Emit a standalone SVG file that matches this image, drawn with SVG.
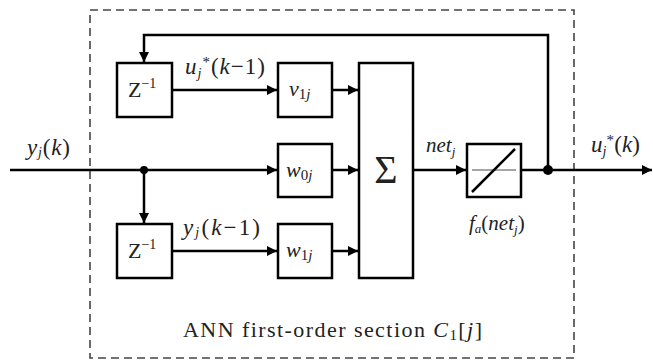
<svg xmlns="http://www.w3.org/2000/svg" width="653" height="362" viewBox="0 0 653 362">
<defs>
<marker id="ah" viewBox="0 0 10 10" refX="10" refY="5" markerWidth="10" markerHeight="10" markerUnits="userSpaceOnUse" orient="auto">
<path d="M0,0 L10,5 L0,10 z" fill="#000"/>
</marker>
</defs>
<style>
.box{fill:#fff;stroke:#000;stroke-width:2.5}
.ln{fill:none;stroke:#000;stroke-width:2.5}
text{font-family:'Liberation Serif','DejaVu Serif','Times New Roman',serif;fill:#222}
.i{font-style:italic}
</style>
<rect x="0" y="0" width="653" height="362" fill="#fff"/>
<rect x="90" y="10" width="484" height="348" fill="none" stroke="#444" stroke-width="1.6" stroke-dasharray="8,5"/>
<g id="connectors">
<path class="ln" d="M548,170 V35 H144 V62" marker-end="url(#ah)"/>
<path class="ln" d="M172,90 H277" marker-end="url(#ah)"/>
<path class="ln" d="M332,90 H358" marker-end="url(#ah)"/>
<path class="ln" d="M10,170 H277" marker-end="url(#ah)"/>
<path class="ln" d="M332,170 H358" marker-end="url(#ah)"/>
<path class="ln" d="M144,170 V223" marker-end="url(#ah)"/>
<path class="ln" d="M172,251 H277" marker-end="url(#ah)"/>
<path class="ln" d="M332,251 H358" marker-end="url(#ah)"/>
<path class="ln" d="M413,170 H466" marker-end="url(#ah)"/>
<path class="ln" d="M521,170 H652" marker-end="url(#ah)"/>
<circle cx="144" cy="170" r="4"/>
<circle cx="548" cy="170" r="5"/>
</g>
<g id="z1">
<rect class="box" x="117" y="63" width="55" height="54"/>
<text x="128" y="97" font-size="22">Z<tspan font-size="14" dy="-9">−1</tspan></text>
</g>
<g id="v1j">
<rect class="box" x="278" y="63" width="54" height="54"/>
<text x="289" y="96" font-size="22"><tspan class="i">v</tspan><tspan font-size="15" dy="3">1</tspan><tspan class="i" font-size="15">j</tspan></text>
</g>
<g id="w0j">
<rect class="box" x="278" y="144" width="54" height="53"/>
<text x="286" y="177" font-size="22"><tspan class="i">w</tspan><tspan font-size="15" dy="3">0</tspan><tspan class="i" font-size="15">j</tspan></text>
</g>
<g id="z2">
<rect class="box" x="117" y="224" width="55" height="54"/>
<text x="128" y="258" font-size="22">Z<tspan font-size="14" dy="-9">−1</tspan></text>
</g>
<g id="w1j">
<rect class="box" x="278" y="224" width="54" height="54"/>
<text x="286" y="257" font-size="22"><tspan class="i">w</tspan><tspan font-size="15" dy="3">1</tspan><tspan class="i" font-size="15">j</tspan></text>
</g>
<g id="sum">
<rect class="box" x="359" y="63" width="54" height="215"/>
<text x="386" y="183" font-size="40" text-anchor="middle">Σ</text>
</g>
<g id="act">
<rect class="box" x="467" y="144" width="54" height="53"/>
<line x1="472" y1="170" x2="516" y2="170" stroke="#888" stroke-width="1.5"/>
<line x1="472" y1="192" x2="515" y2="149" stroke="#000" stroke-width="2.5"/>
</g>
<g id="labels">
<text x="27" y="155" font-size="23" textLength="43"><tspan class="i">y</tspan><tspan class="i" font-size="14" dy="2">j</tspan><tspan dy="-2">(</tspan><tspan class="i">k</tspan>)</text>
<text x="185" y="74" font-size="23" textLength="80"><tspan class="i">u</tspan><tspan class="i" font-size="14" dy="4">j</tspan><tspan font-size="15" dy="-11">*</tspan><tspan dy="7">(</tspan><tspan class="i">k</tspan>−1)</text>
<text x="183" y="235" font-size="23" textLength="77"><tspan class="i">y</tspan><tspan class="i" font-size="14" dy="2">j</tspan><tspan dy="-2">(</tspan><tspan class="i">k</tspan>−1)</text>
<text class="i" x="426" y="152" font-size="21">net<tspan font-size="13" dy="4">j</tspan></text>
<text x="591" y="152" font-size="23" textLength="49"><tspan class="i">u</tspan><tspan class="i" font-size="14" dy="4">j</tspan><tspan font-size="15" dy="-11">*</tspan><tspan dy="7">(</tspan><tspan class="i">k</tspan>)</text>
<text x="469" y="230" font-size="21"><tspan class="i">f</tspan><tspan class="i" font-size="13" dy="3">a</tspan><tspan dy="-3">(</tspan><tspan class="i">net</tspan><tspan class="i" font-size="13" dy="4">j</tspan><tspan dy="-4">)</tspan></text>
<text x="183" y="337" font-size="22" textLength="299"><tspan>ANN first-order section </tspan><tspan class="i">C</tspan><tspan font-size="15" dy="3">1</tspan><tspan dy="-3">[</tspan><tspan class="i">j</tspan>]</text>
</g>
</svg>
